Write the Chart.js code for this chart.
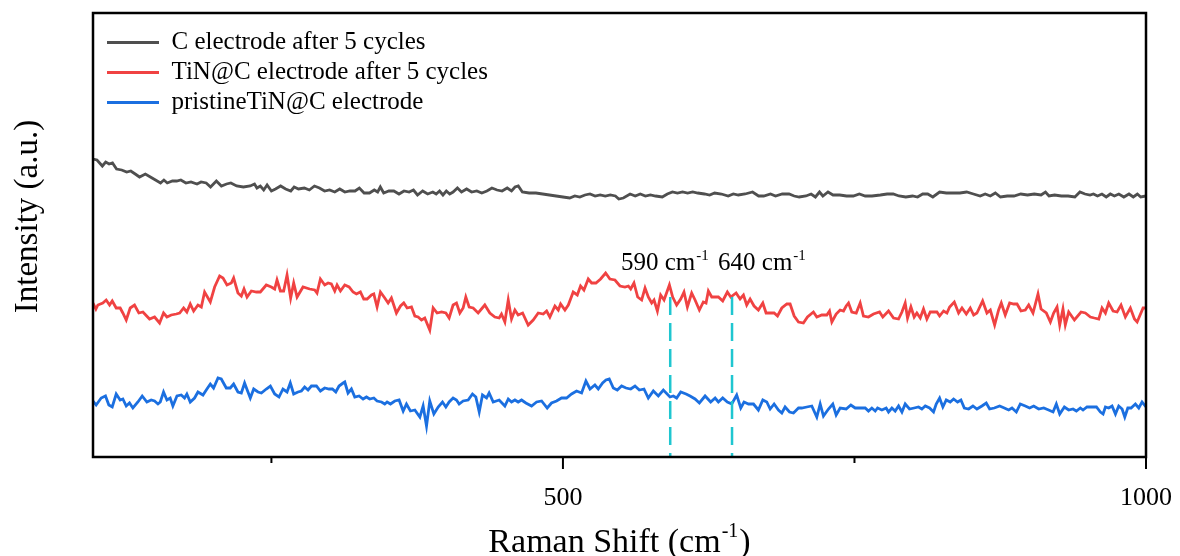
<!DOCTYPE html>
<html><head><meta charset="utf-8">
<script src="https://cdn.jsdelivr.net/npm/chart.js@4.4.1/dist/chart.umd.min.js"></script>
<style>html,body{margin:0;padding:0;background:#fff;}#wrap{width:1180px;height:556px;}</style>
</head><body><div id="wrap"><canvas id="c" width="1180" height="556"></canvas></div>
<script>
const seriesNames = ['C electrode after 5 cycles', 'TiN@C electrode after 5 cycles', 'pristineTiN@C electrode'];
const seriesColors = ['#4f4f4f', '#f04242', '#1b6fe0'];

// C electrode after 5 cycles
const cX = [97,100.4,105,107.9,110.8,113.7,117.2,121.6,125.9,129.4,133.2,136.9,141.9,146.2,150.6,154.9,157.8,160.7,165.1,168.8,172.3,176.7,181.0,186.2,189.7,194.1,197.8,202.8,207.1,211.5,215.2,220.2,226.0,231.8,235.5,237.6,240.5,243.4,246.3,250.0,253.5,257.9,262.2,266.6,269.5,273.2,278.2,282.5,286.9,291.2,295.6,299.9,304.3,308.6,313.0,317.3,321.7,325.4,329.5,334.1,338.2,341.1,343.4,346.3,350.7,355.0,359.4,363.7,368.1,371.8,375.3,379.7,384.0,388.4,391.3,394.2,397.1,400.0,402.9,405.8,409.5,413.0,417.4,421.7,426.1,430.4,434.8,439.1,443.5,447.8,452.2,455.9,458.9,461.7,465.2,471.0,476.8,482.6,488.4,494.2,500.0,505.8,510.2,514.5,518.9,523.2,527.6,531.9,536.3,540.6,545.0,547.9,551.8,557.6,562.0,566.3,570.7,575.0,579.4,585.2,589.5,593.9,598.2,602.6,606.9,611.3,615.6,621.4,625.8,630.1,635.9,641.7,646.1,650.4,656.2,662.6,667.8,672.2,678.0,682.3,688.1,693.9,698.3,702.6,708.4,712.8,716.5,720.0,722.9,727.3,731.6,737.4,743.2,749.0,754.2,759.2,765.0,772.2,778.0,783.2,788.2,794.0,799.8,804.1,808.5,812.8,817.2,823.0,828.8,834.6,840.4,846.2,852.0,857.8,862.1,866.5,870.8,875.2,881.0,886.8,892.6,898.4,904.2,910.0,913.8,916.8,921.6,927.4,933.2,939.0,943.3,947.7,952.0,954.9,958.4,962.2,965.9,969.4,972.9,976.7,981.0,985.4,989.1,992.6,995.5,1000];
const cY = [298,297,291,295,293,294,288,287,285,286,283,280,283,280,277,274,277,274,276,276,277,274,275,273,275,274,270,276,271,273,274,271,270,271,273,269,271,267,272,266,268,271,268,266,270,268,269,267,271,269,266,267,265,268,265,266,266,269,264,264,267,265,270,264,266,266,263,266,265,267,262,266,263,265,263,266,262,266,263,265,269,265,268,265,266,264,266,269,267,266,269,266,270,271,265,264,264,263,262,261,260,259,261,260,262,263,261,262,261,262,261,258,259,263,261,263,261,262,261,260,263,265,264,265,264,265,264,263,262,264,263,261,263,262,263,265,261,261,263,261,263,263,261,260,261,263,260,265,261,265,262,262,261,261,263,261,261,262,263,263,261,260,261,260,263,263,260,265,264,264,264,265,263,261,263,261,264,260,261,261,263,262,263,262,265,261,262,261,261,260,265,263,262,263,261,263,260,263,261,263,260,263,260,263,260,261];

// TiN@C electrode after 5 cycles
const tX = [97,99.5,101.2,105.4,108.3,111.2,113.5,116.9,120.3,122.6,125.5,128.9,132.6,136.3,139.8,145.5,149.8,154.1,157.5,160.4,164.1,168.4,171.3,174.7,177.5,180.4,183.3,187.0,189.9,192.7,197.6,201.3,205.6,208.5,211.9,215.6,217.6,221.3,224.2,226.5,229.1,232.8,237.1,240.5,245.6,249.9,252.8,254.8,257.7,260.5,263.4,266.5,269.1,272.0,277.1,282.8,287.1,289.1,292.0,295.7,298.6,301.4,304.3,306.3,309.2,312.9,316.6,320.0,322.9,326.3,329.2,332.1,335.8,337.8,340.6,343.5,347.2,350.1,352.9,357.2,360.7,363.5,366.4,370.1,373.0,375.8,378.7,381.5,385.8,388.7,392.1,395.9,399.6,402.4,405.8,408.7,411.6,414.4,416.7,419.6,423.0,427.3,433.0,437.3,441.6,445.3,447.3,450.2,453.1,455.9,458.8,461.6,465.4,470.2,474.5,478.8,483.1,486.0,488.8,493.1,496.0,498.0,501.7,504.6,508.8,512.3,515.1,518.0,521.7,524.6,528.3,532.3,536.6,540.3,544.6,548.9,553.2,556.1,558.1,560.9,564.1,567.5,570.4,573.2,576.1,578.1,581.0,583.8,586.7,591.3,594.1,597.5,601.0,603.8,606.7,610.4,613.3,617.0,620.4,622.7,624.7,627.6,630.5,633.3,637.0,641.0,643.9,648.5,651.9,654.8,657.6,660.5,663.9,667.6,671.4,674.2,677.7,681.1,684.0,687.7,692.0,694.8,698.3,702.0,706.2,709.7,714.8,717.7,722.0,726.3,728.6,730.6,734.3,737.7,740.6,742.9,744.9,747.7,751.5,754.9,757.7,762.0,766.3,771.5,774.3,779.2,783.5,787.8,790.7,793.5,795.5,798.4,801.2,803.5,806.4,809.2,812.1,815.0,820.7,823.0,826.4,829.3,831.6,835.6,839.3,842.2,845.9,849.3,852.2,855.0,859.9,863.6,866.5,870.2,873.6,875.9,879.3,883.1,886.5,889.4,892.8,896.5,899.4,903.1,907.4,910.0,914.5,918.0,920.8,923.7,926.0,928.8,930.8,933.7,938.6,944.3,948.0,952.3,955.7,959.5,962.3,965.2,968.0,971.8,975.2,978.6,982.3,986.6,990.1,992.4,997.5,1000];
const tY = [154,148,152,154,157,152,156,149,149,144,137,149,152,144,145,138,140,134,144,140,142,143,144,149,145,153,146,152,150,165,155,170,181,179,172,174,179,164,161,168,160,166,165,165,172,170,168,177,166,166,182,159,174,160,170,168,167,164,178,172,174,173,166,172,166,172,170,165,163,165,158,158,162,163,150,165,159,154,159,144,151,154,149,150,141,140,137,139,127,149,144,145,144,139,152,154,144,149,160,150,149,144,152,144,140,139,143,135,157,138,147,142,144,132,137,144,143,146,140,151,147,153,147,152,165,162,171,167,178,174,174,178,184,178,177,171,170,171,168,174,160,157,169,160,154,157,146,162,157,172,160,152,158,165,150,164,157,147,155,154,166,160,160,160,156,165,160,164,158,162,152,158,151,147,154,144,144,144,141,149,153,153,141,135,134,140,145,140,142,142,146,135,143,147,146,151,154,145,144,154,141,140,143,145,140,146,139,138,145,154,139,150,140,144,139,148,138,145,145,141,146,144,150,155,144,149,143,149,142,144,156,144,147,132,147,154,142,154,153,153,146,147,152,144,163,148,144,135,144,150,132,148,132,145,137,145,144,140,139,138,149,144,154,146,145,152,140,149,138,135,149,149];

// pristineTiN@C electrode
const pX = [97,99.7,104,107.7,110.6,113.5,116.9,120.3,122.6,125.5,128.3,131.2,135.5,139.2,143.2,146.9,149.8,152.7,154.7,157.5,160.4,163.2,165.5,169.0,172.7,175.5,177.5,180.4,184.1,187.0,191.3,194.7,197.6,200.4,204.2,207.0,211.3,214.7,217.6,221.3,224.2,227.0,229.9,231.9,234.8,238.5,241.4,245.6,249.1,252.8,256.5,259.9,263.4,266.2,269.1,272.8,275.7,278.5,281.4,284.3,288.6,292.0,295.7,299.4,302.3,305.2,308.0,311.5,312.9,315.7,318.6,321.5,325.2,328.6,331.5,334.3,337.8,340.6,344.4,347.2,349.2,352.1,355.8,359.5,363.0,365.8,369.2,373.0,377.3,380.1,383.0,385.8,389.3,393.0,396.7,399.6,402.4,405.8,408.7,411.0,414.4,418.7,422.4,425.3,428.2,431.0,434.5,436.7,440.2,445.3,450.2,453.1,455.9,458.8,461.6,464.5,468.2,473.1,477.4,481.7,486.5,490.2,494.5,498.8,503.1,507.4,511.7,516.0,519.7,523.2,527.4,530.3,534.0,536.9,539.7,543.2,546.6,550.3,554.1,558.1,561.8,565.5,569.5,573.2,577.5,581.8,586.1,591.8,594.7,597.5,601.0,605.6,609.0,613.3,617.0,621.9,626.7,630.5,633.3,637.0,641.0,644.8,649.0,652.5,655.3,659.1,663.4,667.6,671.4,674.8,677.7,681.1,684.8,687.7,690.5,694.3,697.7,702.0,704.8,709.1,713.4,717.7,720.6,723.4,727.7,731.4,734.3,737.7,742.9,746.9,750.6,754.9,759.2,762.0,764.9,767.8,769.8,773.5,777.2,779.2,782.1,784.9,787.8,790.7,793.5,797.2,801.2,804.9,807.8,810.7,814.4,817.8,820.1,823.0,825.8,828.7,832.1,835.0,838.4,841.3,844.2,847.9,851.6,855.0,859.3,863.0,865.9,869.9,874.5,878.5,882.2,885.1,888.8,892.2,896.5,900.2,903.7,908.0,912.3,916.5,920.3,923.1,926.0,930.0,933.7,937.4,940.3,943.7,946.0,949.4,953.7,957.5,960.9,963.2,965.2,968.0,970.9,973.8,976.6,979.5,981.8,984.4,987.2,990.9,993.8,996.6,1000];
const pY = [56,52,59,61,52,50,63,57,58,51,54,49,55,61,55,57,56,53,55,65,57,59,51,61,62,59,63,55,59,65,62,68,73,69,79,78,69,69,73,65,64,74,65,59,68,65,64,68,71,63,60,68,65,74,63,65,66,70,67,71,71,66,69,68,68,65,71,74,75,64,68,60,61,58,60,58,59,56,55,53,55,53,56,57,46,53,46,47,40,51,31,56,43,50,55,50,55,59,57,53,56,57,63,60,45,62,59,64,55,57,51,58,55,57,55,57,54,51,55,56,49,54,56,59,59,63,66,64,76,68,72,68,74,77,78,69,67,71,69,68,71,67,68,59,66,61,67,60,61,59,65,63,61,58,54,61,55,59,55,59,55,53,62,49,55,53,53,47,57,55,48,53,47,44,50,45,44,49,49,50,51,40,53,41,48,53,42,49,48,52,49,49,49,46,49,46,49,47,49,45,49,46,51,45,53,48,49,50,48,51,49,45,53,59,50,57,55,58,55,57,49,48,51,48,51,54,48,49,51,49,47,49,45,53,51,49,51,48,49,47,45,53,43,50,47,48,46,49,47,50,50,50,45,43,50,49,51,43,51,48,40,49,49,53,49,55,50];

// marker lines (590 / 640 cm-1 positions as drawn) and their labels
const markerX = [592, 645];
const markerTop = [160, 160];
const markerLabels = ['590 cm', '640 cm'];
const markerLabelX = [549.8, 633];
const markerLabelY = [187, 187];

const xTicks = [250, 500, 750, 1000];
const xTickLabels = ['', '500', '', '1000'];
const xTitle = ['Raman Shift (cm', '-1', ')'];
const yTitle = 'Intensity (a.u.)';

const FONT = "'Liberation Serif', 'Times New Roman', serif";
Chart.defaults.font.family = FONT;
Chart.defaults.color = '#000';

const toPts = (xs, ys) => xs.map((x, i) => ({x: x, y: ys[i]}));
const lineSets = [[cX, cY], [tX, tY], [pX, pY]].map((s, i) => ({
  label: seriesNames[i], data: toPts(s[0], s[1]),
  borderColor: seriesColors[i], backgroundColor: seriesColors[i],
  borderWidth: 2.8, pointRadius: 0, tension: 0, fill: false
}));
const markerSets = markerX.map((x, i) => ({
  label: 'm' + i, data: [{x: x, y: markerTop[i]}, {x: x, y: 0}],
  borderColor: '#1fc6d0', borderWidth: 2.5, borderDash: [18, 8],
  pointRadius: 0, fill: false, order: -1
}));

const decor = {
  id: 'decor',
  afterLayout(chart) {
    const lg = chart.legend, ca = chart.chartArea;
    if (lg) {
      const w = lg.width, h = lg.height;
      lg.left = ca.left + 9; lg.top = ca.top + 12;
      lg.right = lg.left + w; lg.bottom = lg.top + h;
    }
  },
  afterDraw(chart) {
    const ctx = chart.ctx, ca = chart.chartArea, xs = chart.scales.x, ys = chart.scales.y;
    ctx.save();
    ctx.strokeStyle = '#000';
    ctx.lineWidth = 2.5;
    ctx.strokeRect(ca.left, ca.top, ca.right - ca.left, ca.bottom - ca.top);
    ctx.lineWidth = 2;
    xTicks.forEach((v, i) => {
      const px = xs.getPixelForValue(v);
      const len = xTickLabels[i] ? 12 : 6;
      ctx.beginPath(); ctx.moveTo(px, ca.bottom); ctx.lineTo(px, ca.bottom + len); ctx.stroke();
    });
    ctx.fillStyle = '#000';
    ctx.textBaseline = 'alphabetic';
    ctx.textAlign = 'left';
    markerLabels.forEach((t, i) => {
      const px = xs.getPixelForValue(markerLabelX[i]);
      const py = ys.getPixelForValue(markerLabelY[i]);
      ctx.font = '25px ' + FONT;
      ctx.fillText(t, px, py);
      const w = ctx.measureText(t).width;
      ctx.font = '15px ' + FONT;
      ctx.fillText('-1', px + w + 1, py - 10);
    });
    ctx.font = '34px ' + FONT;
    const w1 = ctx.measureText(xTitle[0]).width, w3 = ctx.measureText(xTitle[2]).width;
    ctx.font = '20px ' + FONT;
    const w2 = ctx.measureText(xTitle[1]).width + 2;
    const cx = (ca.left + ca.right) / 2;
    const x0 = cx - (w1 + w2 + w3) / 2, yb = 552;
    ctx.font = '34px ' + FONT;
    ctx.fillText(xTitle[0], x0, yb);
    ctx.fillText(xTitle[2], x0 + w1 + w2, yb);
    ctx.font = '20px ' + FONT;
    ctx.fillText(xTitle[1], x0 + w1 + 1, yb - 15);
    ctx.font = '33px ' + FONT;
    ctx.translate(37, 216.5);
    ctx.rotate(-Math.PI / 2);
    ctx.textAlign = 'center';
    ctx.fillText(yTitle, 0, 0);
    ctx.restore();
  }
};

new Chart(document.getElementById('c'), {
  type: 'line',
  data: { datasets: lineSets.concat(markerSets) },
  plugins: [decor],
  options: {
    responsive: false, animation: false, devicePixelRatio: 1,
    layout: { padding: { top: 13, right: 34, left: 0, bottom: 0 } },
    plugins: {
      tooltip: { enabled: false },
      legend: {
        position: 'chartArea', align: 'start',
        labels: {
          filter: (item) => item.datasetIndex < 3,
          boxWidth: 52, boxHeight: 0, padding: 5,
          font: { size: 25, family: FONT }, color: '#000'
        }
      }
    },
    scales: {
      x: {
        type: 'linear', min: 97, max: 1000,
        afterBuildTicks: (s) => { s.ticks = xTicks.map(v => ({ value: v })); },
        afterFit: (s) => { s.height = 99; s.paddingLeft = 0; s.paddingRight = 0; },
        grid: { display: false }, border: { display: false },
        ticks: {
          autoSkip: false, maxRotation: 0, padding: 18,
          font: { size: 26, family: FONT }, color: '#000',
          callback: (v) => xTickLabels[xTicks.indexOf(v)] || ''
        }
      },
      y: {
        type: 'linear', min: 0, max: 444,
        afterFit: (s) => { s.width = 93; s.paddingTop = 0; s.paddingBottom = 0; },
        grid: { display: false }, border: { display: false },
        ticks: { display: false }
      }
    }
  }
});
</script>
</body></html>
